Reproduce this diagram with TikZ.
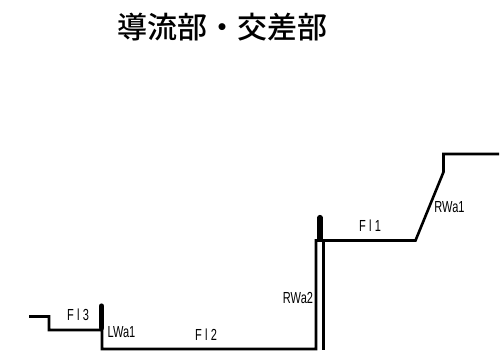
\documentclass[tikz,border=0pt]{standalone}
\usepackage{fontspec}
\usepackage{tikz}
\newfontfamily\cjk{Noto Sans CJK JP Medium}
\newfontfamily\labelfont[LetterSpace=30]{Liberation Sans}
\newfontfamily\wallfont{Liberation Sans}
\begin{document}
\begin{tikzpicture}[
    x=1pt, y=-1pt,
    title/.style={font=\cjk\fontsize{30}{32}\selectfont, inner sep=0pt},
    flat/.style={font=\labelfont\fontsize{16}{18}\selectfont, inner sep=0pt, xscale=0.69, transform shape},
    wall/.style={font=\wallfont\fontsize{16}{18}\selectfont, inner sep=0pt, xscale=0.69, transform shape},
    ground/.style={line width=2.6pt, line join=miter},
    thin wall/.style={line width=2.2pt},
    thick wall/.style={line width=5.2pt, line cap=round}
]
\useasboundingbox (0,0) rectangle (501,354);

% Title
\node[title] (heading) at (222.5,27) {導流部・交差部};

% Profile points
\coordinate (start) at (29,316.5);
\coordinate (step1) at (49,316.5);
\coordinate (step2) at (49,330);
\coordinate (lwall) at (102,330);
\coordinate (lfoot) at (103,349);
\coordinate (rfoot) at (316,349);
\coordinate (rtop) at (316,240.5);
\coordinate (slope1) at (415.5,240.5);
\coordinate (slope2) at (443.5,172);
\coordinate (bank) at (443.5,154);
\coordinate (end) at (499,154);

% Wall points
\coordinate (lcap) at (101.5,306);
\coordinate (rcap) at (320,217.5);
\coordinate (rbase) at (320,239);
\coordinate (lbase) at (101.5,328);
\coordinate (inner1) at (323.5,240.5);
\coordinate (inner2) at (323.5,350);

% Profile
\draw[ground] (start) -- (step1) -- (step2) -- (lwall) -- (lwall |- lfoot) -- (rfoot) -- (rtop) -- (slope1) -- (slope2) -- (bank) -- (end);
\draw[thin wall] (inner1) -- (inner2);

% Walls
\draw[thick wall] (lcap) -- (lbase);
\draw[thick wall] (rcap) -- (rbase);

% Labels
\node[flat] (fl3) at (78,315) {Fl3};
\node[wall] (lwa1) at (121.5,332.5) {LWa1};
\node[flat] (fl2) at (206,334.5) {Fl2};
\node[wall] (rwa2) at (298,298) {RWa2};
\node[flat] (fl1) at (370,226) {Fl1};
\node[wall] (rwa1) at (449.5,207.5) {RWa1};

\end{tikzpicture}
\end{document}
